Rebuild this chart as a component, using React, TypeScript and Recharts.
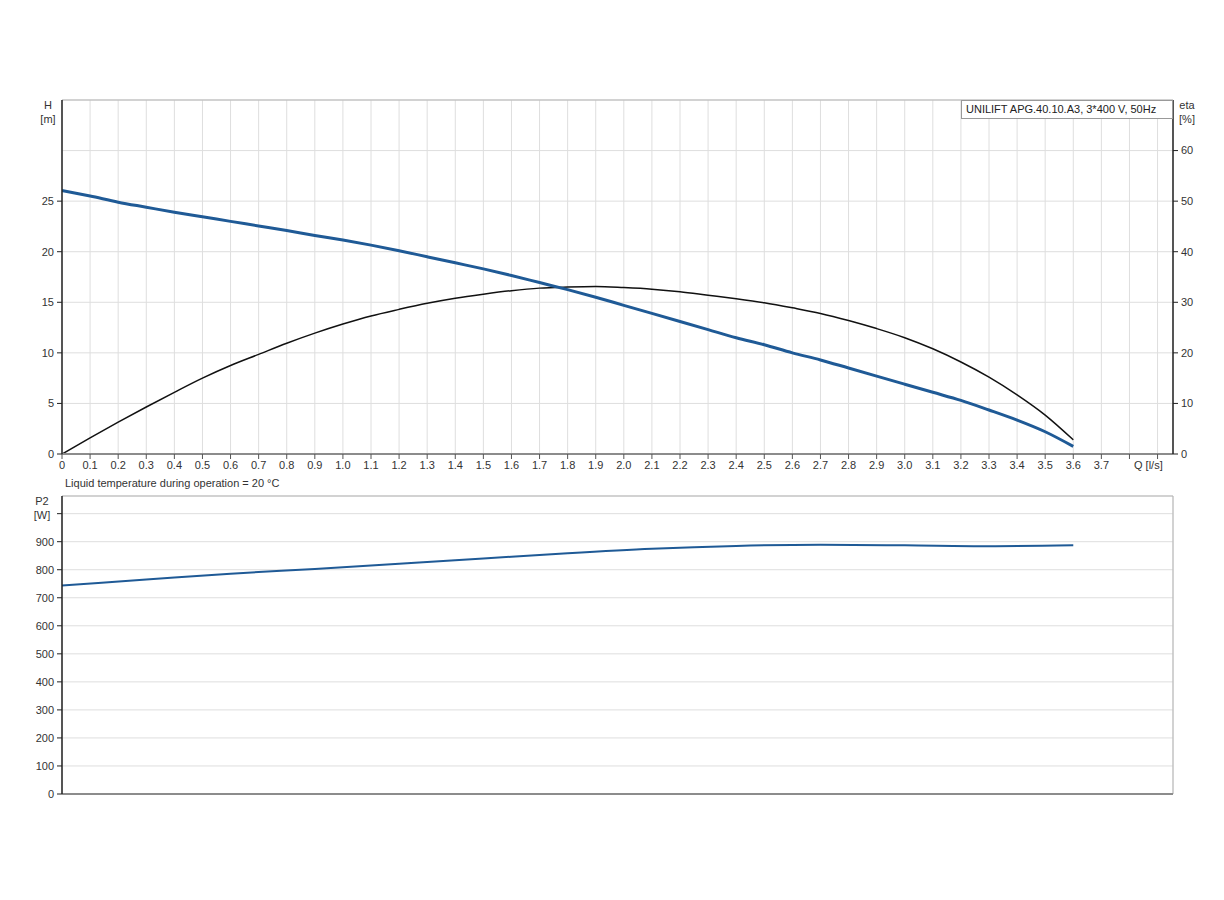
import React from "react";
import {
  CartesianGrid,
  Line,
  LineChart,
  ReferenceLine,
  XAxis,
  YAxis,
} from "recharts";

// flow points for the H and eta curves, l/s
const flowQ = [
  0, 0.1, 0.2, 0.3, 0.4, 0.5, 0.6, 0.7, 0.8, 0.9, 1.0, 1.1, 1.2, 1.3, 1.4,
  1.5, 1.6, 1.7, 1.8, 1.9, 2.0, 2.1, 2.2, 2.3, 2.4, 2.5, 2.6, 2.7, 2.8, 2.9,
  3.0, 3.1, 3.2, 3.3, 3.4, 3.5, 3.6,
];
// head, m
const headH = [
  26.05, 25.5, 24.9, 24.4, 23.9, 23.45, 23.0, 22.55, 22.1, 21.6, 21.15, 20.65,
  20.1, 19.5, 18.9, 18.3, 17.65, 16.95, 16.25, 15.5, 14.7, 13.9, 13.1, 12.3,
  11.5, 10.8, 10.0, 9.3, 8.5, 7.7, 6.9, 6.1, 5.3, 4.35, 3.35, 2.2, 0.75,
];
// efficiency, %
const efficiencyEta = [
  0, 3.2, 6.3, 9.3, 12.2, 15.0, 17.5, 19.7, 21.9, 23.9, 25.7, 27.3, 28.6, 29.8,
  30.8, 31.6, 32.3, 32.8, 33.0, 33.1, 32.9, 32.6, 32.1, 31.4, 30.7, 29.9, 28.9,
  27.8, 26.4, 24.8, 23.0, 20.8, 18.2, 15.2, 11.7, 7.7, 2.8,
];
// power curve points
const powerQ = [0, 0.3, 0.6, 0.9, 1.2, 1.5, 1.8, 2.1, 2.4, 2.7, 3.0, 3.3, 3.6];
const powerP2 = [744, 765, 786, 803, 821, 840, 859, 875, 885, 889, 887, 884, 887];

const qTicks = [
  0, 0.1, 0.2, 0.3, 0.4, 0.5, 0.6, 0.7, 0.8, 0.9, 1.0, 1.1, 1.2, 1.3, 1.4,
  1.5, 1.6, 1.7, 1.8, 1.9, 2.0, 2.1, 2.2, 2.3, 2.4, 2.5, 2.6, 2.7, 2.8, 2.9,
  3.0, 3.1, 3.2, 3.3, 3.4, 3.5, 3.6, 3.7, 3.8, 3.9,
];
const hTicks = [0, 5, 10, 15, 20, 25];
const etaTicks = [0, 10, 20, 30, 40, 50, 60];
const p2Ticks = [0, 100, 200, 300, 400, 500, 600, 700, 800, 900, 1000];

const Q_MAX = 3.955;
const P2_MAX = 1063;

const curveRows = flowQ.map((q, i) => ({ q, h: headH[i], eta: efficiencyEta[i] }));
const powerRows = powerQ.map((q, i) => ({ q, p2: powerP2[i] }));

const FONT = '"Liberation Sans", Arial, sans-serif';
const tickStyle = { fontSize: 11, fill: "#333", fontFamily: FONT };
const BLUE = "#1f5a96";

const qLabel = (v: number) => (v > 3.75 ? "" : v === 0 ? "0" : v.toFixed(1));
const p2Label = (v: number) => (v === 1000 ? "" : String(v));

const text: React.CSSProperties = {
  position: "absolute",
  fontFamily: FONT,
  fontSize: 11,
  color: "#333",
  lineHeight: "14px",
  whiteSpace: "nowrap",
};

export default function App() {
  return (
    <div style={{ position: "relative", width: 1208, height: 880 }}>
      <div style={{ position: "absolute", left: 0, top: 80 }}>
        <LineChart
          width={1208}
          height={400}
          data={curveRows}
          margin={{ top: 12, right: 10, bottom: 10, left: 10 }}
        >
          <CartesianGrid yAxisId="eta" stroke="#dedede" />
          <XAxis
            dataKey="q"
            type="number"
            domain={[0, Q_MAX]}
            ticks={qTicks}
            allowDataOverflow
            interval={0}
            tickFormatter={qLabel}
            tick={tickStyle}
            tickSize={5}
            tickMargin={2}
            height={24}
            axisLine={{ stroke: "#8c8c8c", strokeWidth: 2 }}
            tickLine={{ stroke: "#555" }}
          />
          <YAxis
            yAxisId="h"
            domain={[0, 35]}
            ticks={hTicks}
            interval={0}
            width={44}
            tick={tickStyle}
            tickSize={5}
            tickMargin={3}
            axisLine={{ stroke: "#222", strokeWidth: 1.5 }}
            tickLine={{ stroke: "#222" }}
          />
          <YAxis
            yAxisId="eta"
            orientation="right"
            domain={[0, 70]}
            ticks={etaTicks}
            interval={0}
            width={33}
            tick={tickStyle}
            tickSize={5}
            tickMargin={3}
            axisLine={{ stroke: "#222", strokeWidth: 1.5 }}
            tickLine={{ stroke: "#222" }}
          />
          <ReferenceLine yAxisId="h" y={35} stroke="#b5b5b5" />
          <Line
            yAxisId="eta"
            dataKey="eta"
            type="monotone"
            stroke="#111"
            strokeWidth={1.5}
            dot={false}
            isAnimationActive={false}
          />
          <Line
            yAxisId="h"
            dataKey="h"
            type="monotone"
            stroke={BLUE}
            strokeWidth={3}
            dot={false}
            isAnimationActive={false}
          />
        </LineChart>
      </div>

      <div style={{ position: "absolute", left: 0, top: 480 }}>
        <LineChart
          width={1208}
          height={320}
          data={powerRows}
          margin={{ top: 8, right: 43, bottom: 10, left: 10 }}
        >
          <CartesianGrid stroke="#dedede" />
          <XAxis
            dataKey="q"
            type="number"
            domain={[0, Q_MAX]}
            ticks={qTicks}
            allowDataOverflow
            interval={0}
            tick={false}
            tickLine={false}
            height={4}
            axisLine={{ stroke: "#8c8c8c", strokeWidth: 2 }}
          />
          <YAxis
            domain={[0, P2_MAX]}
            ticks={p2Ticks}
            interval={0}
            allowDataOverflow
            width={44}
            tickFormatter={p2Label}
            tick={tickStyle}
            tickSize={5}
            tickMargin={3}
            axisLine={{ stroke: "#222", strokeWidth: 1.5 }}
            tickLine={{ stroke: "#222" }}
          />
          <ReferenceLine y={P2_MAX} stroke="#b5b5b5" />
          <ReferenceLine x={Q_MAX} stroke="#b5b5b5" />
          <Line
            dataKey="p2"
            type="monotone"
            stroke={BLUE}
            strokeWidth={2}
            dot={false}
            isAnimationActive={false}
          />
        </LineChart>
      </div>

      <div
        style={{
          ...text,
          left: 953,
          top: 92,
          width: 206,
          height: 17,
          lineHeight: "16px",
          paddingLeft: 4,
          border: "1px solid #999",
          background: "#fff",
          color: "#222",
        }}
      >
        UNILIFT APG.40.10.A3, 3*400 V, 50Hz
      </div>
      <div style={{ ...text, left: 25, top: 90, width: 30, textAlign: "center" }}>
        H<br />[m]
      </div>
      <div style={{ ...text, left: 1164, top: 90, width: 30, textAlign: "center" }}>
        eta<br />[%]
      </div>
      <div style={{ ...text, left: 1126, top: 450 }}>Q [l/s]</div>
      <div style={{ ...text, left: 57, top: 468 }}>
        Liquid temperature during operation = 20 °C
      </div>
      <div style={{ ...text, left: 19, top: 486, width: 30, textAlign: "center" }}>
        P2<br />[W]
      </div>
    </div>
  );
}
